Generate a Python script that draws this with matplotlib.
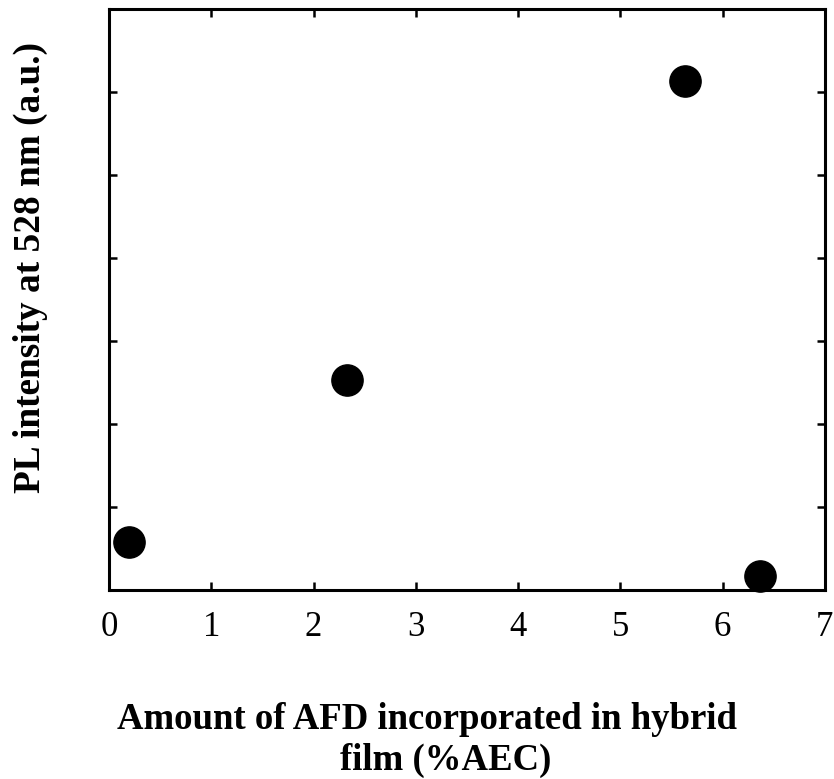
import matplotlib
matplotlib.use("Agg")
import matplotlib.pyplot as plt

# AFD loading (%AEC) and PL intensity (a.u.)
afd_amount = [0.20, 2.33, 5.63, 6.37]
pl_intensity = [0.58, 2.53, 6.13, 0.17]

x_ticks = [0, 1, 2, 3, 4, 5, 6, 7]
y_ticks = [1, 2, 3, 4, 5, 6]

plt.rcParams['font.family'] = ['Liberation Serif', 'DejaVu Serif']

fig = plt.figure(figsize=(8.34, 7.79), dpi=100)
ax = fig.add_axes([0.1307, 0.2426, 0.8583, 0.7458])

ax.plot(afd_amount, pl_intensity, 'o', color='black', markersize=22.5,
        linestyle='none', clip_on=False, zorder=3)

ax.set_xlim(0, 7)
ax.set_ylim(0, 7)
ax.set_xticks(x_ticks)
ax.set_xticklabels([str(t) for t in x_ticks], fontsize=25)
ax.set_yticks(y_ticks)
ax.set_yticklabels([])

ax.tick_params(direction='in', length=6, width=1.8, top=True, right=True,
               pad=15)
for sp in ax.spines.values():
    sp.set_linewidth(2.2)

# x title in two lines, each placed on its own baseline
fig.text(0.512, 0.0642, 'Amount of AFD incorporated in hybrid',
         ha='center', va='baseline', fontsize=26.5, fontweight='bold')
fig.text(0.534, 0.0116, 'film (%AEC)',
         ha='center', va='baseline', fontsize=26.5, fontweight='bold')
fig.text(0.036, 0.656, 'PL intensity at 528 nm (a.u.)', rotation=90,
         ha='center', va='center', fontsize=26.8, fontweight='bold')

fig.savefig('out.png', dpi=100)
